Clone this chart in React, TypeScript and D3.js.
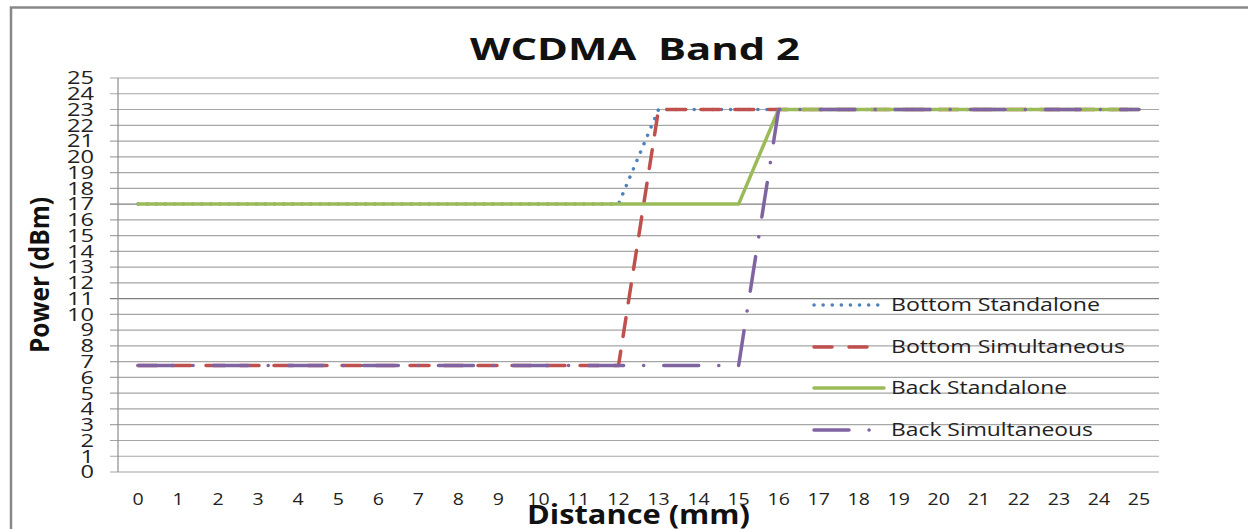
import React from "react";
import * as d3 from "d3";

const distances = d3.range(0, 26);
const bottomStandalone = [17,17,17,17,17,17,17,17,17,17,17,17,17,23,23,23,23,23,23,23,23,23,23,23,23,23];
const bottomSimultaneous = [6.75,6.75,6.75,6.75,6.75,6.75,6.75,6.75,6.75,6.75,6.75,6.75,6.75,23,23,23,23,23,23,23,23,23,23,23,23,23];
const backStandalone = [17,17,17,17,17,17,17,17,17,17,17,17,17,17,17,17,23,23,23,23,23,23,23,23,23,23];
const backSimultaneous = [6.75,6.75,6.75,6.75,6.75,6.75,6.75,6.75,6.75,6.75,6.75,6.75,6.75,6.75,6.75,6.75,23,23,23,23,23,23,23,23,23,23];
const seriesNames = ["Bottom Standalone", "Bottom Simultaneous", "Back Standalone", "Back Simultaneous"];
const yTicks = d3.range(0, 26);

const W = 1248, H = 529;
const left = 118, right = 1159, top = 78, bottom = 472;
const font = "'Open Sans', 'Noto Sans', sans-serif";

const styles = [
  { color: "#4F81BD", dash: "0.1 9", width: 3.5, legendDash: "0.1 9" },
  { color: "#C0504D", dash: "19 15", width: 3.5, legendDash: "18 17" },
  { color: "#9BBB59", dash: "none", width: 3.5, legendDash: "none" },
  { color: "#8064A2", dash: "35 20 0.1 20", width: 3.5, legendDash: "35 20 0.1 20" },
];
const legendWidths = [209, 234, 176, 202];

export default function App() {
  const x = d3.scaleBand<number>().domain(distances).range([left, right]);
  const xc = (d: number) => (x(d) as number) + x.bandwidth() / 2;
  const y = d3.scaleLinear().domain([0, 25]).range([bottom, top]);
  const data = [bottomStandalone, bottomSimultaneous, backStandalone, backSimultaneous];
  const line = d3.line<number>().x((_, i) => xc(distances[i])).y((v) => y(v));
  const legendY = [305, 347, 388, 430];

  return (
    <div style={{ position: "absolute", left: 0, top: 0 }}>
      <svg width={W} height={H} style={{ display: "block", background: "#fff" }}>
        <rect x={11} y={7.5} width={W + 20} height={H + 20} fill="#fff" stroke="#888" strokeWidth={2.5} />
        {yTicks.map((t) => (
          <g key={t}>
            <line x1={left - 8} x2={right} y1={y(t)} y2={y(t)} stroke={t === 11 || t === 17 ? "#7f7f7f" : "#a6a6a6"} strokeWidth={1.2} />
            <text transform={`translate(94,${y(t)}) scale(1.35,1)`} dy="0.36em" textAnchor="end" fontFamily={font} fontSize={17.5} fill="#222">{t}</text>
          </g>
        ))}
        <line x1={left} x2={left} y1={top} y2={bottom} stroke="#8c8c8c" strokeWidth={1.2} />
        {distances.map((d) => (
          <text key={d} transform={`translate(${xc(d)},505) scale(1.15,1)`} textAnchor="middle" fontFamily={font} fontSize={17} fill="#222">{d}</text>
        ))}
        {data.map((s, i) => (
          <path key={i} d={line(s) || ""} fill="none" stroke={styles[i].color} strokeWidth={styles[i].width}
            strokeDasharray={styles[i].dash} strokeLinecap="round" strokeLinejoin="round" />
        ))}
        {seriesNames.map((n, i) => (
          <g key={n}>
            <line x1={814} x2={884} y1={legendY[i]} y2={legendY[i]} stroke={styles[i].color} strokeWidth={styles[i].width}
              strokeDasharray={styles[i].legendDash} strokeLinecap="round" />
            <text x={891} y={legendY[i]} dy="0.36em" textLength={legendWidths[i]} lengthAdjust="spacingAndGlyphs"
              fontFamily={font} fontSize={18} fill="#222">{n}</text>
          </g>
        ))}
        <text x={470} y={60} textLength={330} lengthAdjust="spacingAndGlyphs" style={{ whiteSpace: "pre" }}
          fontFamily={font} fontWeight="bold" fontSize={31} fill="#111">{"WCDMA  Band 2"}</text>
        <text x={527} y={524} textLength={223} lengthAdjust="spacingAndGlyphs" fontFamily={font} fontWeight="bold" fontSize={26} fill="#111">Distance (mm)</text>
        <text transform={`translate(49,353) rotate(-90)`} textLength={156} lengthAdjust="spacingAndGlyphs" fontFamily={font} fontWeight="bold" fontSize={26} fill="#111">Power (dBm)</text>
      </svg>
    </div>
  );
}
